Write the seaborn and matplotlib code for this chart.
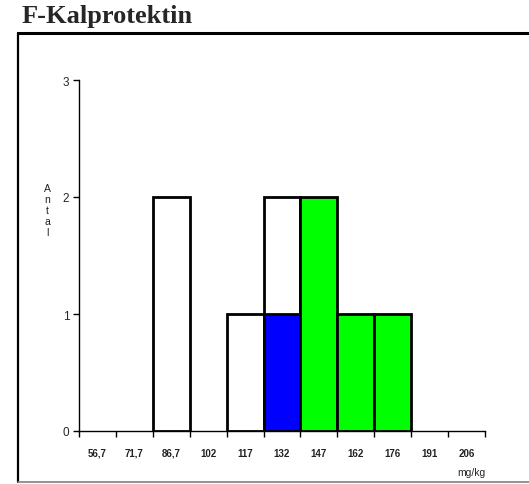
import numpy as np
import pandas as pd
from matplotlib import pyplot as plt
from matplotlib.lines import Line2D
import seaborn as sns

# bins (mg/kg) and counts per group
bins = ['56,7', '71,7', '86,7', '102', '117', '132', '147', '162', '176', '191', '206']
white_counts = [0, 0, 2, 0, 1, 1, 0, 0, 0, 0, 0]
blue_counts = [0, 0, 0, 0, 0, 1, 0, 0, 0, 0, 0]
green_counts = [0, 0, 0, 0, 0, 0, 2, 1, 1, 0, 0]


def nonzero(labels, values):
    """Keep only bins that actually have a bar."""
    df = pd.DataFrame({'bin': labels, 'antal': values})
    return df[df['antal'] > 0]


def main():
    sns.set_style("white")
    plt.rcParams['font.family'] = ['Liberation Sans', 'DejaVu Sans']

    fig = plt.figure(figsize=(5.29, 4.85), dpi=100)
    ax = fig.add_axes([79 / 529, 53 / 485, 406 / 529, 351 / 485])

    # white stacks on top of blue, so draw the total first and blue over it
    total_wb = [w + b for w, b in zip(white_counts, blue_counts)]
    sns.barplot(data=nonzero(bins, total_wb), x='bin', y='antal', order=bins,
                color='white', edgecolor='black', linewidth=2, width=1.0,
                saturation=1, ax=ax)
    sns.barplot(data=nonzero(bins, blue_counts), x='bin', y='antal', order=bins,
                color='#0000ff', edgecolor='black', linewidth=2, width=1.0,
                saturation=1, ax=ax)
    sns.barplot(data=nonzero(bins, green_counts), x='bin', y='antal', order=bins,
                color='#00ff00', edgecolor='black', linewidth=2, width=1.0,
                saturation=1, ax=ax)

    ax.set_xlim(-0.5, len(bins) - 0.5)
    ax.set_ylim(0, 3)
    ax.set_yticks([0, 1, 2, 3])
    ax.set_xlabel('')
    ax.set_ylabel('')

    sns.despine(ax=ax)
    for side in ['left', 'bottom']:
        ax.spines[side].set_color('black')
        ax.spines[side].set_linewidth(1)

    # tick marks at the bin edges, labels in the middle
    ax.set_xticks(np.arange(len(bins) + 1) - 0.5, minor=True)
    ax.tick_params(axis='x', which='minor', direction='out', length=4, width=1,
                   color='black', bottom=True)
    ax.tick_params(axis='x', which='major', length=0, pad=12, labelsize=7)
    ax.tick_params(axis='y', direction='out', length=4, width=1, color='black',
                   left=True, labelsize=8.5, pad=3)
    ax.set_xticks(range(len(bins)))
    ax.set_xticklabels(bins)
    for lbl in ax.get_xticklabels():
        lbl.set_fontweight('bold')
        lbl.set_color('#222222')

    fig.text(47 / 529, 1 - 211 / 485, 'A\nn\nt\na\nl', ha='center', va='center',
             fontsize=7.5, linespacing=1.15, color='#222222')
    fig.text(486 / 529, 1 - 473 / 485, 'mg/kg', ha='right', va='center', fontsize=7.5)

    fig.text(22 / 529, 1 - 17 / 485, 'F-Kalprotektin', ha='left', va='center',
             fontsize=19, fontweight='bold', family='Liberation Serif')

    # frame around the chart
    x0 = 18 / 529
    ytop = 1 - 34 / 485
    ybot = 1 - 483 / 485
    fig.add_artist(Line2D([x0, 1], [ytop, ytop], color='black', lw=2.2,
                          transform=fig.transFigure))
    fig.add_artist(Line2D([x0, x0], [ybot, ytop], color='black', lw=1.6,
                          transform=fig.transFigure))
    fig.add_artist(Line2D([x0, 1], [ybot, ybot], color='#808080', lw=1.2,
                          transform=fig.transFigure))

    fig.savefig('out.png', dpi=100)


if __name__ == "__main__":
    main()
